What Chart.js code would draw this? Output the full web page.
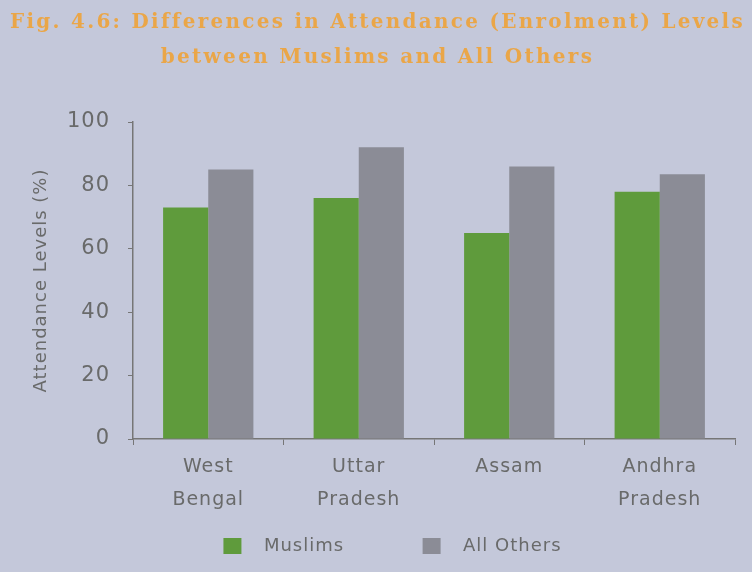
<!DOCTYPE html>
<html>
<head>
<meta charset="utf-8">
<script src="https://cdn.jsdelivr.net/npm/chart.js@4"></script>
<style>
  html, body { margin: 0; padding: 0; background: #c4c8da; }
  #wrap { width: 752px; height: 572px; }
</style>
</head>
<body>
<div id="wrap"><canvas id="bar_chart"></canvas></div>
<script>
  const states = [['West', 'Bengal'], ['Uttar', 'Pradesh'], 'Assam', ['Andhra', 'Pradesh']];
  const muslims = [73, 76, 65, 78];
  const allOthers = [85, 92, 86, 83.5];
  const yTicks = [0, 20, 40, 60, 80, 100];

  const textGrey = '#696a6a';
  const axisGrey = '#767676';

  // canvas letter spacing, the print is set quite wide
  // title and legend sit a bit right of centre in the print
  const printLook = {
    id: 'printLook',
    beforeUpdate(chart) { chart.ctx.letterSpacing = '1px'; },
    afterLayout(chart) {
      chart.legend.left += 25;
      chart.legend.right += 25;
      chart.titleBlock.left += 10;
      chart.titleBlock.right += 10;
    },
    beforeDraw(chart) { chart.ctx.letterSpacing = '1px'; }
  };

  const ctx = document.getElementById('bar_chart').getContext('2d');
  const chart = new Chart(ctx, {
    type: 'bar',
    data: {
      labels: states,
      datasets: [{
        label: 'Muslims',
        data: muslims,
        backgroundColor: '#5f9b3c',
        categoryPercentage: 0.6,
        barPercentage: 1.0
      }, {
        label: 'All Others',
        data: allOthers,
        backgroundColor: '#8b8c96',
        categoryPercentage: 0.6,
        barPercentage: 1.0
      }]
    },
    plugins: [printLook],
    options: {
      responsive: true,
      maintainAspectRatio: false,
      animation: false,
      layout: { padding: { left: 0, right: 17, top: 0, bottom: 7 } },
      plugins: {
        title: {
          display: true,
          text: ['Fig. 4.6: Differences in Attendance (Enrolment) Levels', 'between Muslims and All Others'],
          color: '#eaa648',
          font: { family: 'DejaVu Serif', size: 20, weight: 'bold', lineHeight: 1.75 },
          padding: { top: 5, bottom: 47 }
        },
        legend: {
          position: 'bottom',
          labels: {
            color: textGrey,
            font: { family: 'DejaVu Sans', size: 18 },
            boxWidth: 18,
            boxHeight: 16,
            padding: 18,
            // wider gaps round the keys, as in the print
            generateLabels: (c) => {
              const items = Chart.defaults.plugins.legend.labels.generateLabels(c);
              items[0].text = '  ' + items[0].text + ' '.repeat(9);
              items[1].text = '  ' + items[1].text;
              return items;
            }
          }
        },
        tooltip: { enabled: false }
      },
      scales: {
        x: {
          grid: { drawOnChartArea: false, color: axisGrey, tickLength: 6, offset: true },
          border: { color: axisGrey, width: 1.5 },
          ticks: {
            color: textGrey,
            font: { family: 'DejaVu Sans', size: 19, lineHeight: 1.75 },
            padding: 5,
            maxRotation: 0
          },
          afterFit: (scale) => { scale.height = 80; }
        },
        y: {
          min: 0,
          max: 100,
          grid: { drawOnChartArea: false, color: axisGrey, tickLength: 5 },
          border: { color: axisGrey, width: 1.5 },
          ticks: {
            stepSize: 20,
            color: textGrey,
            font: { family: 'DejaVu Sans', size: 21 },
            padding: 18,
            callback: (v) => yTicks.includes(v) ? v : ''
          },
          title: {
            display: true,
            text: 'Attendance Levels (%)',
            color: textGrey,
            font: { family: 'DejaVu Sans', size: 18 },
            padding: { top: 31, bottom: 0 }
          },
          afterFit: (scale) => { scale.width = 133; }
        }
      }
    }
  });

  // wider tracking for the printed title
  const tb = chart.titleBlock;
  const drawTitle = tb.draw.bind(tb);
  tb.draw = function () {
    const c = chart.ctx;
    c.save();
    c.letterSpacing = '2.3px';
    drawTitle();
    c.restore();
  };
  chart.draw();
</script>
</body>
</html>
